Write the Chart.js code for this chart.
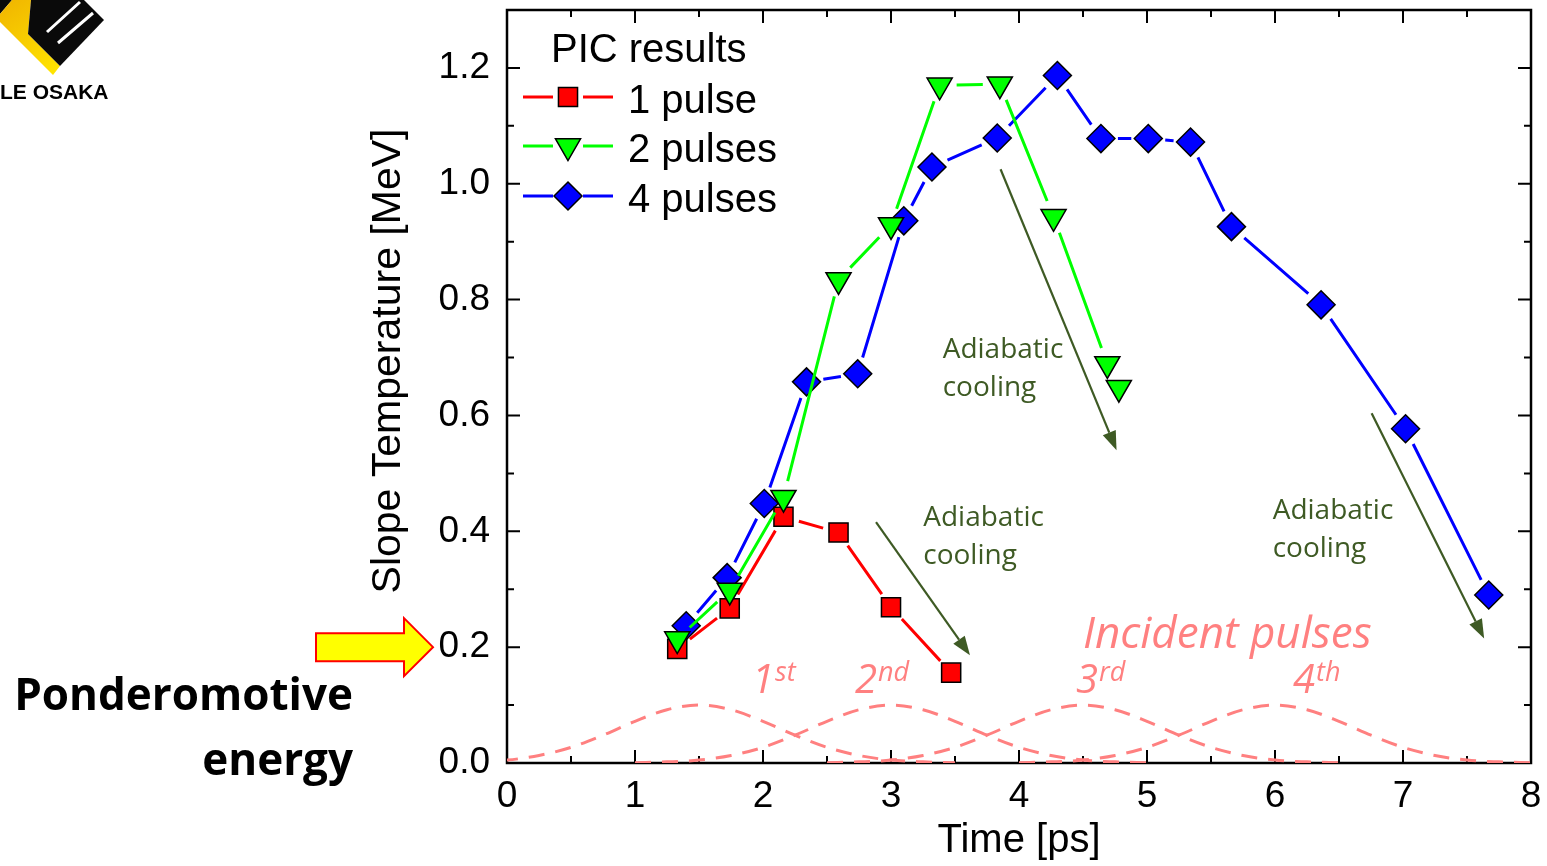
<!DOCTYPE html>
<html lang="en">
<head>
  <meta charset="utf-8">
  <title>Slope Temperature | PIC results</title>
  <script src="https://cdn.jsdelivr.net/npm/chart.js@4.4.1/dist/chart.umd.min.js"></script>
  <style>
    html, body { margin: 0; padding: 0; background: #fff; }
    #wrap { width: 1547px; height: 866px; position: relative; }
  </style>
</head>
<body>
<div id="wrap"><canvas id="temp_chart"></canvas></div>

<script>
  // PIC results, slope temperature [MeV] vs time [ps]
  var onePulseTime  = [1.33, 1.74, 2.16, 2.59, 3.00, 3.47];
  var onePulseTemp  = [0.197, 0.267, 0.425, 0.398, 0.269, 0.156];

  var twoPulseTime  = [1.33, 1.74, 2.16, 2.59, 3.00, 3.38, 3.85, 4.27, 4.69, 4.78];
  var twoPulseTemp  = [0.214, 0.298, 0.458, 0.834, 0.929, 1.170, 1.172, 0.943, 0.689, 0.648];

  var fourPulseTime = [1.40, 1.72, 2.01, 2.34, 2.74, 3.10, 3.32, 3.83, 4.30, 4.64, 5.01, 5.34, 5.66, 6.36, 7.02, 7.67];
  var fourPulseTemp = [0.237, 0.320, 0.448, 0.658, 0.672, 0.936, 1.029, 1.079, 1.187, 1.078, 1.078, 1.072, 0.926, 0.791, 0.577, 0.290];

  // incident laser pulses (arb. units), same envelope shifted to each centre
  var pulseCenters = [1.5, 3.0, 4.5, 6.0];
  var pulseOffsets = [-2, -1.75, -1.5, -1.25, -1, -0.75, -0.5, -0.25, 0, 0.25, 0.5, 0.75, 1, 1.25, 1.5, 1.75, 2];
  var pulseShape   = [0.0006, 0.002, 0.005, 0.013, 0.027, 0.048, 0.072, 0.092, 0.100, 0.092, 0.072, 0.048, 0.027, 0.013, 0.005, 0.002, 0.0006];
  var pulseNames   = ['1', '2', '3', '4'];
  var pulseSuffix  = ['st', 'nd', 'rd', 'th'];

  var xTickValues = [0, 1, 2, 3, 4, 5, 6, 7, 8];
  var xTickLabels = ['0', '1', '2', '3', '4', '5', '6', '7', '8'];
  var yTickValues = [0, 0.2, 0.4, 0.6, 0.8, 1.0, 1.2];
  var yTickLabels = ['0.0', '0.2', '0.4', '0.6', '0.8', '1.0', '1.2'];

  var seriesNames = ['1 pulse', '2 pulses', '4 pulses'];

  function toPoints(xs, ys) {
    var out = [];
    for (var i = 0; i < xs.length; i++) out.push({x: xs[i], y: ys[i]});
    return out;
  }

  var PINK = '#ff8080';
  var OLIVE = '#3e5a24';

  var datasets = [
    {
      label: seriesNames[1], data: toPoints(twoPulseTime, twoPulseTemp), order: 1,
      showLine: false, linkGap: 17, linkColor: '#00ff00',
      pointStyle: 'triangle', rotation: 180, pointRadius: 14.5,
      backgroundColor: '#00ff00', borderColor: '#000', pointBorderWidth: 1.5
    },
    {
      label: seriesNames[0], data: toPoints(onePulseTime, onePulseTemp), order: 2,
      showLine: false, linkGap: 16, linkColor: '#ff0000',
      pointStyle: 'rect', pointRadius: 13.5,
      backgroundColor: '#ff0000', borderColor: '#000', pointBorderWidth: 1.5
    },
    {
      label: seriesNames[2], data: toPoints(fourPulseTime, fourPulseTemp), order: 3,
      showLine: false, linkGap: 17, linkColor: '#0000ff',
      pointStyle: 'rectRot', pointRadius: 14,
      backgroundColor: '#0000ff', borderColor: '#000', pointBorderWidth: 1.5
    }
  ];

  pulseCenters.forEach(function(c, k) {
    datasets.push({
      label: 'pulse ' + pulseNames[k],
      data: toPoints(pulseOffsets.map(function(o) { return c + o; }), pulseShape),
      order: 10,
      showLine: true,
      borderColor: PINK,
      borderWidth: 3,
      borderDash: [16, 11],
      cubicInterpolationMode: 'monotone',
      pointRadius: 0
    });
  });

  // frame with inward ticks on all four sides
  var frameTicks = {
    id: 'frameTicks',
    beforeDatasetsDraw: function(chart) {
      var ctx = chart.ctx, a = chart.chartArea;
      var xs = chart.scales.x, ys = chart.scales.y;
      ctx.save();
      ctx.strokeStyle = '#000';
      ctx.lineWidth = 2.5;
      ctx.strokeRect(a.left, a.top, a.right - a.left, a.bottom - a.top);
      ctx.lineWidth = 2;
      ctx.beginPath();
      for (var v = 0; v <= 8.001; v += 0.5) {
        var px = xs.getPixelForValue(v);
        var len = (Math.abs(v - Math.round(v)) < 1e-6) ? 13 : 7;
        ctx.moveTo(px, a.bottom); ctx.lineTo(px, a.bottom - len);
        ctx.moveTo(px, a.top); ctx.lineTo(px, a.top + len);
      }
      for (var w = 0; w <= 1.2001; w += 0.1) {
        var py = ys.getPixelForValue(w);
        var major = Math.abs(w * 5 - Math.round(w * 5)) < 1e-6;
        var l2 = major ? 13 : 7;
        ctx.moveTo(a.left, py); ctx.lineTo(a.left + l2, py);
        ctx.moveTo(a.right, py); ctx.lineTo(a.right - l2, py);
      }
      ctx.stroke();
      ctx.restore();
    }
  };

  // connecting lines that stop short of each marker
  var gappedLines = {
    id: 'gappedLines',
    beforeDatasetDraw: function(chart, args) {
      var ds = chart.data.datasets[args.index];
      if (!ds.linkGap) return;
      var pts = args.meta.data, ctx = chart.ctx, a = chart.chartArea;
      ctx.save();
      ctx.beginPath();
      ctx.rect(a.left, a.top, a.right - a.left, a.bottom - a.top);
      ctx.clip();
      ctx.strokeStyle = ds.linkColor;
      ctx.lineWidth = 3;
      ctx.beginPath();
      for (var i = 1; i < pts.length; i++) {
        var p = pts[i - 1], q = pts[i];
        var dx = q.x - p.x, dy = q.y - p.y, len = Math.hypot(dx, dy);
        if (len <= 2 * ds.linkGap) continue;
        var ux = dx / len, uy = dy / len;
        ctx.moveTo(p.x + ux * ds.linkGap, p.y + uy * ds.linkGap);
        ctx.lineTo(q.x - ux * ds.linkGap, q.y - uy * ds.linkGap);
      }
      ctx.stroke();
      ctx.restore();
    }
  };

  function drawMarker(ctx, ds, x, y) {
    if (Chart.helpers && Chart.helpers.drawPoint) {
      ctx.fillStyle = ds.backgroundColor;
      ctx.strokeStyle = ds.borderColor;
      ctx.lineWidth = ds.pointBorderWidth;
      Chart.helpers.drawPoint(ctx, {
        pointStyle: ds.pointStyle, rotation: ds.rotation || 0,
        radius: ds.pointRadius, borderWidth: ds.pointBorderWidth
      }, x, y);
    }
  }

  function arrow(ctx, x1, y1, x2, y2) {
    var ang = Math.atan2(y2 - y1, x2 - x1), hl = 19, hw = 7;
    var bx = x2 - hl * Math.cos(ang), by = y2 - hl * Math.sin(ang);
    ctx.beginPath();
    ctx.moveTo(x1, y1); ctx.lineTo(bx, by);
    ctx.stroke();
    ctx.beginPath();
    ctx.moveTo(x2, y2);
    ctx.lineTo(bx + hw * Math.sin(ang), by - hw * Math.cos(ang));
    ctx.lineTo(bx - hw * Math.sin(ang), by + hw * Math.cos(ang));
    ctx.closePath();
    ctx.fill();
  }

  // cooling arrows and notes, placed in data units
  var coolingArrows = [
    [3.856, 1.025, 4.762, 0.540],
    [2.883, 0.416, 3.617, 0.186],
    [6.755, 0.604, 7.634, 0.215]
  ];
  var coolingNotes = [[3.404, 0.700], [3.252, 0.410], [5.982, 0.421]];

  var annotations = {
    id: 'annotations',
    afterDraw: function(chart) {
      var ctx = chart.ctx, xs = chart.scales.x, ys = chart.scales.y;
      ctx.save();

      // y axis title, sits a little above the axis centre
      ctx.fillStyle = '#000';
      ctx.font = '41px "Liberation Sans", Arial, sans-serif';
      ctx.textAlign = 'center';
      ctx.textBaseline = 'middle';
      ctx.save();
      ctx.translate(389, 361);
      ctx.rotate(-Math.PI / 2);
      ctx.fillText('Slope Temperature [MeV]', 0, 0);
      ctx.restore();

      // legend: 1 pulse, 2 pulses, 4 pulses
      ctx.font = '40px "Liberation Sans", Arial, sans-serif';
      ctx.textBaseline = 'alphabetic';
      ctx.textAlign = 'left';
      ctx.fillText('PIC results', 551, 62);
      var rows = [[1, 97, 113], [0, 146, 162], [2, 196, 212]];
      rows.forEach(function(row, r) {
        var ds = chart.data.datasets[row[0]];
        var ly = row[1];
        ctx.strokeStyle = ds.linkColor;
        ctx.lineWidth = 3;
        ctx.beginPath();
        ctx.moveTo(523, ly); ctx.lineTo(553, ly);
        ctx.moveTo(583, ly); ctx.lineTo(613, ly);
        ctx.stroke();
        drawMarker(ctx, ds, 568, ly);
        ctx.fillStyle = '#000';
        ctx.fillText(seriesNames[r], 628, row[2]);
      });

      // adiabatic cooling arrows
      ctx.strokeStyle = OLIVE;
      ctx.fillStyle = OLIVE;
      ctx.lineWidth = 2.2;
      coolingArrows.forEach(function(c) {
        arrow(ctx, xs.getPixelForValue(c[0]), ys.getPixelForValue(c[1]),
                   xs.getPixelForValue(c[2]), ys.getPixelForValue(c[3]));
      });
      ctx.font = '28px "Open Sans", sans-serif';
      coolingNotes.forEach(function(n) {
        var tx = xs.getPixelForValue(n[0]), ty = ys.getPixelForValue(n[1]);
        ctx.fillText('Adiabatic', tx, ty);
        ctx.fillText('cooling', tx, ty + 38);
      });

      // incident pulse labels
      ctx.fillStyle = PINK;
      ctx.font = 'italic 44px "Open Sans", sans-serif';
      ctx.fillText('Incident pulses', xs.getPixelForValue(4.5), ys.getPixelForValue(0.198));
      var ordX = [1.914, 2.719, 4.445, 6.141];
      for (var k = 0; k < 4; k++) {
        var ox = xs.getPixelForValue(ordX[k]), oy = ys.getPixelForValue(0.12);
        ctx.font = 'italic 40px "Open Sans", sans-serif';
        ctx.fillText(pulseNames[k], ox, oy);
        var w = ctx.measureText(pulseNames[k]).width;
        ctx.font = 'italic 27px "Open Sans", sans-serif';
        ctx.fillText(pulseSuffix[k], ox + w + 1, oy - 12);
      }

      // ponderomotive energy marker on the y axis
      ctx.fillStyle = '#ffff00';
      ctx.strokeStyle = '#ff0000';
      ctx.lineWidth = 2;
      var ay = ys.getPixelForValue(0.2);
      ctx.beginPath();
      ctx.moveTo(316, ay - 14); ctx.lineTo(404, ay - 14); ctx.lineTo(404, ay - 29);
      ctx.lineTo(433, ay); ctx.lineTo(404, ay + 29); ctx.lineTo(404, ay + 14);
      ctx.lineTo(316, ay + 14); ctx.closePath();
      ctx.fill(); ctx.stroke();

      ctx.fillStyle = '#000';
      ctx.font = 'bold 44px "Open Sans", sans-serif';
      ctx.textAlign = 'right';
      ctx.fillText('Ponderomotive', 353, 710);
      ctx.fillText('energy', 353, 775);

      // institute logo
      ctx.textAlign = 'left';
      ctx.fillStyle = '#0a0a0a';
      ctx.beginPath();
      ctx.moveTo(0, 0); ctx.lineTo(12, 0); ctx.lineTo(0, 14); ctx.closePath();
      ctx.fill();
      var grad = ctx.createLinearGradient(0, 0, 50, 75);
      grad.addColorStop(0, '#f0b400');
      grad.addColorStop(1, '#ffe400');
      ctx.fillStyle = grad;
      ctx.beginPath();
      ctx.moveTo(12, 0); ctx.lineTo(31, 0); ctx.lineTo(28, 34); ctx.lineTo(60, 66);
      ctx.lineTo(53, 75); ctx.lineTo(0, 22); ctx.lineTo(0, 14);
      ctx.closePath();
      ctx.fill();
      ctx.fillStyle = '#0a0a0a';
      ctx.beginPath();
      ctx.moveTo(31, 0); ctx.lineTo(84, 0); ctx.lineTo(104, 20); ctx.lineTo(60, 66);
      ctx.lineTo(28, 34); ctx.closePath();
      ctx.fill();
      ctx.strokeStyle = '#fff';
      ctx.lineWidth = 3;
      ctx.beginPath();
      ctx.moveTo(47, 32); ctx.lineTo(80, 2);
      ctx.moveTo(58, 43); ctx.lineTo(93, 13);
      ctx.stroke();
      ctx.fillStyle = '#000';
      ctx.font = 'bold 21px "Liberation Sans", Arial, sans-serif';
      ctx.fillText('LE OSAKA', 0, 99);

      ctx.restore();
    }
  };

  var tickFont = {family: '"Liberation Sans", Arial, sans-serif', size: 37};
  var titleFont = {family: '"Liberation Sans", Arial, sans-serif', size: 40};

  function noEdgePadding(s) {
    s.paddingTop = 0; s.paddingBottom = 0;
    s.paddingLeft = 0; s.paddingRight = 0;
  }

  var temp_chart = new Chart(document.getElementById('temp_chart'), {
    type: 'scatter',
    data: { datasets: datasets },
    options: {
      responsive: true,
      maintainAspectRatio: false,
      animation: false,
      events: [],
      layout: { autoPadding: false, padding: { left: 364, right: 16, top: 10, bottom: 0 } },
      plugins: {
        legend: { display: false },
        tooltip: { enabled: false }
      },
      scales: {
        x: {
          type: 'linear', min: 0, max: 8,
          grid: { display: false, drawTicks: false },
          border: { display: false },
          afterBuildTicks: function(s) { s.ticks = xTickValues.map(function(v) { return {value: v}; }); },
          afterFit: function(s) { s.height = 103; noEdgePadding(s); },
          ticks: {
            color: '#000', font: tickFont, padding: 12, maxRotation: 0,
            callback: function(v) { return xTickLabels[xTickValues.indexOf(v)]; }
          },
          title: { display: true, text: 'Time [ps]', color: '#000', font: titleFont, padding: {top: 0, bottom: 1} }
        },
        y: {
          type: 'linear', min: 0, max: 1.3,
          grid: { display: false, drawTicks: false },
          border: { display: false },
          afterBuildTicks: function(s) { s.ticks = yTickValues.map(function(v) { return {value: v}; }); },
          afterFit: function(s) { s.width = 143; noEdgePadding(s); },
          ticks: {
            color: '#000', font: tickFont, padding: 17,
            callback: function(v) {
              var i = yTickValues.findIndex(function(t) { return Math.abs(t - v) < 1e-9; });
              return yTickLabels[i];
            }
          },
          title: { display: false }
        }
      }
    },
    plugins: [frameTicks, gappedLines, annotations]
  });
</script>
</body>
</html>
